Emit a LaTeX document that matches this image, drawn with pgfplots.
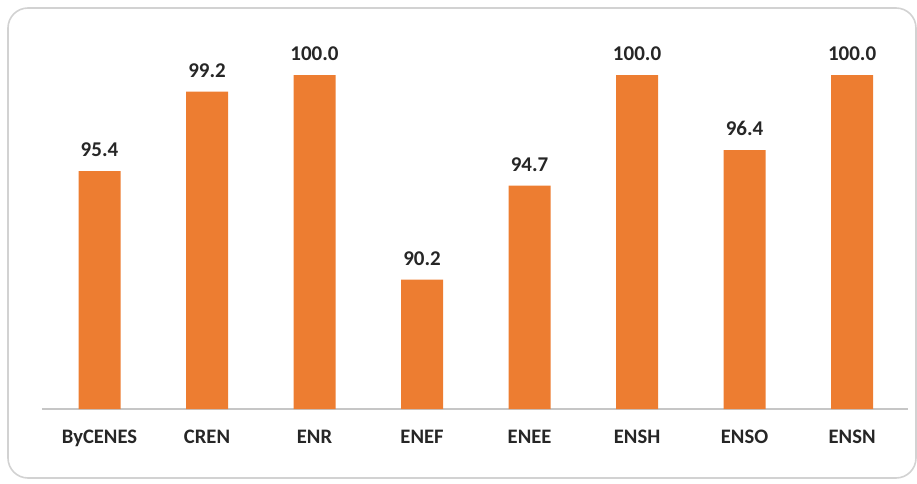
\documentclass[border=0pt]{standalone}
\usepackage{pgfplots}
\pgfplotsset{compat=1.18}
\usepackage{fontspec}
\setmainfont{Carlito}
\definecolor{barorange}{HTML}{ED7D31}
\definecolor{txt}{HTML}{262626}
\begin{document}
\begin{tikzpicture}
% 1 px of the reference = 0.5pt; axis lower left at px (42,409)
\useasboundingbox (-21pt,-37pt) rectangle (437.5pt,204.5pt);
\draw[gray!35, line width=0.8pt, rounded corners=10pt] (-17pt,-34.5pt) rectangle (437pt,200.5pt);
\begin{axis}[
  at={(0pt,0pt)}, anchor=south west,
  scale only axis,
  width=433pt, height=167pt,
  xmin=-0.535, xmax=7.52,
  ymin=84, ymax=100,
  clip=false,
  ybar, bar width=21pt,
  axis x line=bottom, axis y line=none,
  x axis line style={-, draw=gray!45, line width=0.8pt},
  major tick length=0pt,
  xtick=data,
  xticklabels={ByCENES,CREN,ENR,ENEF,ENEE,ENSH,ENSO,ENSN},
  xticklabel style={font=\fontsize{10.3}{12}\selectfont\bfseries, text=txt, inner sep=0pt, anchor=north, yshift=-10.5pt},
  nodes near coords,
  nodes near coords style={font=\fontsize{10.5}{12}\selectfont\bfseries, text=txt, inner sep=0pt, anchor=south, yshift=7pt,
    /pgf/number format/.cd, fixed, fixed zerofill, precision=1, assume math mode=true},
]
\addplot[fill=barorange, draw=none] coordinates {
  (0,95.4) (1,99.2) (2,100.0) (3,90.2) (4,94.7) (5,100.0) (6,96.4) (7,100.0)
};
\end{axis}
\end{tikzpicture}
\end{document}
